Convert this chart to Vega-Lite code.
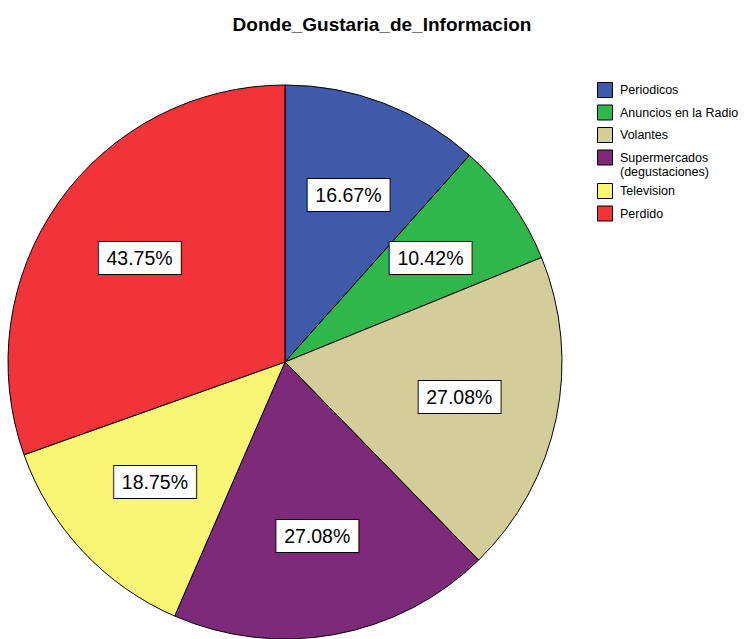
{
  "$schema": "https://vega.github.io/schema/vega-lite/v6.json",
  "width": 550,
  "height": 554,
  "autosize": "none",
  "padding": {"left": 10, "top": 85, "right": 195, "bottom": 0},
  "background": "white",
  "title": {
    "text": "Donde_Gustaria_de_Informacion",
    "anchor": "middle",
    "dx": 97,
    "offset": 47,
    "font": "Liberation Sans",
    "fontSize": 19,
    "fontWeight": "bold",
    "color": "black"
  },
  "config": {"view": {"stroke": null}},
  "data": {
    "values": [
      {"cat": "Periodicos", "value": 16.67, "idx": 1, "label": "16.67%"},
      {"cat": "Anuncios en la Radio", "value": 10.42, "idx": 2, "label": "10.42%"},
      {"cat": "Volantes", "value": 27.08, "idx": 3, "label": "27.08%"},
      {"cat": "Supermercados (degustaciones)", "value": 27.08, "idx": 4, "label": "27.08%"},
      {"cat": "Television", "value": 18.75, "idx": 5, "label": "18.75%"},
      {"cat": "Perdido", "value": 43.75, "idx": 6, "label": "43.75%"}
    ]
  },
  "encoding": {
    "theta": {"field": "value", "type": "quantitative", "stack": true},
    "order": {"field": "idx", "type": "quantitative"}
  },
  "layer": [
    {
      "mark": {"type": "arc", "outerRadius": 277, "stroke": "black", "strokeWidth": 1},
      "encoding": {
        "color": {
          "field": "cat",
          "type": "nominal",
          "sort": ["Periodicos", "Anuncios en la Radio", "Volantes", "Supermercados (degustaciones)", "Television", "Perdido"],
          "scale": {
            "domain": ["Periodicos", "Anuncios en la Radio", "Volantes", "Supermercados (degustaciones)", "Television", "Perdido"],
            "range": ["#3e5aa8", "#2fb74b", "#d3ce99", "#7d2a7a", "#faf675", "#f0343a"]
          },
          "legend": {
            "title": null,
            "orient": "none",
            "legendX": 587,
            "legendY": -3,
            "symbolType": "square",
            "symbolSize": 225,
            "symbolStrokeColor": "black",
            "symbolStrokeWidth": 1,
            "labelFont": "Liberation Sans",
            "labelFontSize": 12.5,
            "labelColor": "black",
            "labelOffset": 7,
            "rowPadding": 2.5,
            "labelExpr": "datum.label == 'Supermercados (degustaciones)' ? ['Supermercados', '(degustaciones)'] : datum.label"
          }
        }
      }
    },
    {
      "mark": {"type": "text", "radius": 178, "text": "█████", "font": "DejaVu Sans Mono", "fontSize": 27, "fill": "white", "stroke": "black", "strokeWidth": 2, "baseline": "middle", "align": "center"}
    },
    {
      "mark": {"type": "text", "radius": 178, "text": "█████", "font": "DejaVu Sans Mono", "fontSize": 27, "fill": "white", "baseline": "middle", "align": "center"}
    },
    {
      "mark": {"type": "text", "radius": 178, "font": "Liberation Sans", "fontSize": 19.5, "fill": "black", "baseline": "middle", "align": "center"},
      "encoding": {"text": {"field": "label", "type": "nominal"}}
    }
  ]
}
